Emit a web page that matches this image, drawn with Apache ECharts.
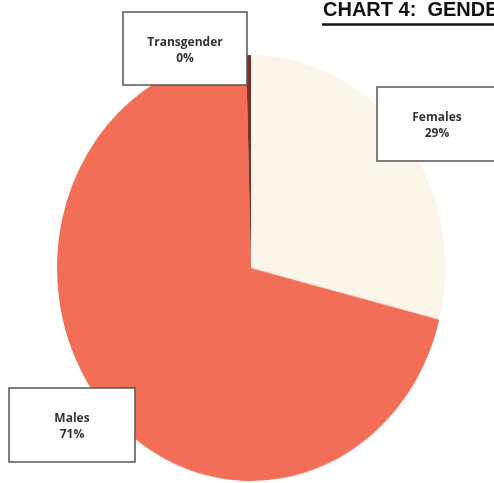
<!DOCTYPE html>
<html>
<head>
<meta charset="utf-8">
<script src="https://cdn.jsdelivr.net/npm/echarts@6/dist/echarts.min.js"></script>
<style>
  html, body { margin: 0; padding: 0; background: #fff; overflow: hidden; }
  #wrap { position: relative; width: 494px; height: 483px; }
  /* the scanned pie is slightly taller than wide */
  #pie { position: absolute; left: 0; top: 0; width: 494px; height: 483px;
         transform-origin: 251px 268px; transform: scaleY(1.098); }
  #over { position: absolute; left: 0; top: 0; width: 494px; height: 483px; }
</style>
</head>
<body>
<div id="wrap">
  <div id="pie"></div>
  <div id="over"></div>
</div>
<script>
// data
const categories = ['Females', 'Males', 'Transgender']
const values = [29, 71, 0.4]
const titleText = 'CHART 4:  GENDER'

const sliceColors = ['#FBF6EA', '#F26E57', '#7E2F2C']
// label boxes: [x, y, w, h]
const boxes = [
  [377, 87, 120, 74],
  [9, 388, 126, 74],
  [123, 12, 124, 73]
]

const total = values.reduce((a, b) => a + b, 0)
const pct = values.map(v => Math.round(v / total * 100) + '%')

// pie
const pieChart = echarts.init(document.getElementById('pie'))
pieChart.setOption({
  animation: false,
  series: [{
    type: 'pie',
    center: [251, 268],
    radius: 194,
    startAngle: 90,
    clockwise: true,
    label: { show: false },
    labelLine: { show: false },
    itemStyle: { borderWidth: 0 },
    data: categories.map((c, i) => ({
      name: c,
      value: values[i],
      itemStyle: { color: sliceColors[i] }
    }))
  }]
})

// label boxes + title
const overChart = echarts.init(document.getElementById('over'))
const graphics = []
categories.forEach((c, i) => {
  const b = boxes[i]
  graphics.push({
    type: 'rect',
    shape: { x: b[0], y: b[1], width: b[2], height: b[3] },
    style: { fill: '#fff', stroke: '#555', lineWidth: 1.5 }
  })
  graphics.push({
    type: 'text',
    x: b[0] + b[2] / 2,
    y: b[1] + b[3] / 2 + 2,
    style: {
      text: c + '\n' + pct[i],
      fill: '#333',
      font: 'bold 12px "Open Sans"',
      lineHeight: 16,
      align: 'center',
      verticalAlign: 'middle'
    }
  })
})
graphics.push({
  type: 'text',
  x: 323,
  y: 0,
  style: {
    text: titleText,
    fill: '#111',
    font: 'bold 20px "Liberation Sans"',
    align: 'left',
    verticalAlign: 'top'
  }
})
graphics.push({
  type: 'line',
  shape: { x1: 322, y1: 24.5, x2: 494, y2: 24.5 },
  style: { stroke: '#111', lineWidth: 2.5 }
})
overChart.setOption({
  animation: false,
  graphic: graphics
})
</script>
</body>
</html>
